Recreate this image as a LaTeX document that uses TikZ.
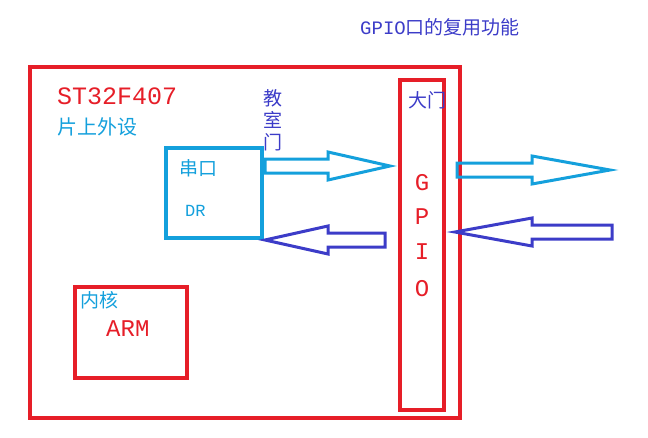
\documentclass[tikz,border=0pt]{standalone}
\usepackage{fontspec}
\setmainfont{Liberation Mono}
\newfontfamily\cjk{Noto Sans CJK SC}
\newcommand\blockarrow[5]{% x1 xh x2 y color
 \draw[#5,line width=3pt,line join=miter] (#1,#4-7)--(#2,#4-7)--(#2,#4-14)--(#3,#4)--(#2,#4+14)--(#2,#4+7)--(#1,#4+7)--cycle;}
\begin{document}
\begin{tikzpicture}[x=1pt,y=-1pt,
 lbl/.style={inner sep=0,anchor=west}]
\definecolor{cy}{RGB}{20,160,220}
\definecolor{bl}{RGB}{60,60,200}
\definecolor{rd}{RGB}{230,30,40}
\useasboundingbox (0,0) rectangle (648,437);
\node[lbl,text=bl,font=\cjk\fontsize{19}{19}\selectfont] (title) at (360,27) {{\rmfamily GPIO}口的复用功能};
\draw[draw=rd,line width=3.5pt] (30,67) rectangle (460,418);
\draw[draw=rd,line width=3.5pt] (400,80) rectangle (444,410);
\draw[draw=cy,line width=3.5pt] (166,148) rectangle (262,238);
\draw[draw=rd,line width=3.5pt] (75,287) rectangle (187,378);
\node[lbl,text=rd,font=\fontsize{25}{25}\selectfont] (chip) at (57,96) {ST32F407};
\node[lbl,text=cy,font=\cjk\fontsize{20}{20}\selectfont] (periph) at (57,127) {片上外设};
\node[text=bl,font=\cjk\fontsize{19}{22}\selectfont,align=center,inner sep=0] (door) at (273,120) {教\\室\\门};
\node[lbl,text=bl,font=\cjk\fontsize{19}{19}\selectfont] (gate) at (408,100) {大门};
\foreach \t/\y in {G/183,P/217,I/252,O/289}
 \node[text=rd,font=\fontsize{24}{24}\selectfont,inner sep=0] (g\t) at (422,\y) {\t};
\node[lbl,text=cy,font=\cjk\fontsize{19}{19}\selectfont] (uart) at (179,168) {串口};
\node[lbl,text=cy,font=\fontsize{17}{17}\selectfont] (dr) at (185,211) {DR};
\node[lbl,text=cy,font=\cjk\fontsize{19}{19}\selectfont] (core) at (80,300) {内核};
\node[lbl,text=rd,font=\fontsize{24}{24}\selectfont] (arm) at (106,329) {ARM};
\blockarrow{265}{328}{390}{166}{cy}
\blockarrow{385}{328}{265}{240}{bl}
\blockarrow{457}{532}{610}{170}{cy}
\blockarrow{612}{532}{455}{232}{bl}
\end{tikzpicture}
\end{document}
